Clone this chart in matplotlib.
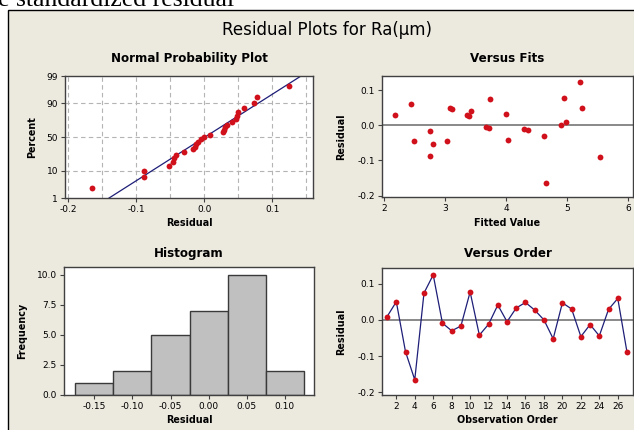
import matplotlib
matplotlib.use("Agg")
import matplotlib.pyplot as plt
from matplotlib.patches import Rectangle
from statistics import NormalDist
import numpy as np

residuals = [0.009, 0.050, -0.088, -0.165, 0.074, 0.124, -0.009, -0.030, -0.017,
             0.077, -0.042, -0.012, 0.041, -0.005, 0.033, 0.048, 0.027, 0.000,
             -0.052, 0.047, 0.030, -0.046, -0.013, -0.044, 0.029, 0.059, -0.089]
# fitted values for the same observations (Versus Fits panel)
fitted = [4.98, 5.25, 2.74, 4.66, 3.73, 5.21, 3.71, 4.62, 2.75,
          4.94, 4.02, 4.29, 3.42, 3.67, 3.99, 3.07, 3.38, 4.90,
          2.79, 3.11, 2.17, 2.48, 4.35, 3.03, 3.35, 2.44, 5.54]
order = list(range(1, len(residuals) + 1))

hist_edges = [-0.175, -0.125, -0.075, -0.025, 0.025, 0.075, 0.125]
prob_ticks = [1, 10, 50, 90, 99]

W, H = 634, 430
BEIGE = '#ECE9DF'
RED = '#D0101A'
NAVY = '#1E1E78'
FRAME = '#404040'

plt.rcParams['font.family'] = 'DejaVu Sans'
plt.rcParams['axes.unicode_minus'] = False

fig = plt.figure(figsize=(W / 100, H / 100), dpi=100)
fig.patch.set_facecolor('white')

# beige Minitab panel with black border (top/left visible)
fig.patches.append(Rectangle((8 / W, -0.01), 1.0, 1 - 10 / H + 0.01,
                             transform=fig.transFigure, facecolor=BEIGE,
                             edgecolor='black', lw=1, zorder=-10))

# clipped heading from the surrounding document (cut at the top in the source too)
fig.text(-2 / W, 1 - 6 / H, 'e standardized residual', family='Liberation Serif',
         fontsize=18.5, va='baseline', ha='left')

fig.text(327 / W, 1 - 30 / H, 'Residual Plots for Ra(\u00b5m)', fontsize=12,
         ha='center', va='center')


def add_ax(l, r, t, b):
    ax = fig.add_axes([l / W, 1 - b / H, (r - l) / W, (b - t) / H])
    ax.set_facecolor('white')
    for s in ax.spines.values():
        s.set_color(FRAME)
        s.set_linewidth(1)
    ax.tick_params(direction='out', length=3, width=0.8, color=FRAME,
                   labelsize=6.5, pad=2)
    return ax


lab = dict(fontsize=6.9, fontweight='bold')
tit = dict(fontsize=8.6, fontweight='bold')

# --- Normal probability plot ---
ax1 = add_ax(65, 313, 76, 198)
nd = NormalDist()
srt = np.sort(residuals)
n = len(srt)
pp = [(i - 0.3) / (n + 0.4) for i in range(1, n + 1)]
zz = [nd.inv_cdf(p) for p in pp]
zlim = nd.inv_cdf(0.99)
mu, sd = np.mean(residuals), np.std(residuals, ddof=1)
ax1.plot([mu - zlim * sd, mu + zlim * sd], [-zlim, zlim], color=NAVY, lw=0.9, zorder=2)
ax1.plot(srt, zz, 'o', color=RED, ms=4.2, mec='none', zorder=3)
ax1.set_xlim(-0.2045, 0.16)
ax1.set_ylim(-zlim, zlim)
ax1.set_yticks([nd.inv_cdf(p / 100) for p in prob_ticks])
ax1.set_yticklabels([str(p) for p in prob_ticks])
ax1.set_xticks([-0.2, -0.1, 0.0, 0.1])
ax1.set_xticklabels(['-0.2', '-0.1', '0.0', '0.1'])
for xg in np.arange(-0.2, 0.16, 0.05):
    ax1.axvline(xg, color='#B4B4B4', lw=0.8, ls=(0, (4, 3)), zorder=1)
for p in prob_ticks[1:-1]:
    ax1.axhline(nd.inv_cdf(p / 100), color='#B4B4B4', lw=0.8, ls=(0, (4, 3)), zorder=1)
ax1.set_title('Normal Probability Plot', pad=10, **tit)
ax1.set_xlabel('Residual', **lab)
ax1.set_ylabel('Percent', **lab)
ax1.xaxis.set_label_coords(0.5, -0.164)
ax1.yaxis.set_label_coords(-0.113, 0.5)

# --- Versus fits ---
ax2 = add_ax(382, 633, 76, 197)
ax2.axhline(0, color='#808080', lw=1.3, zorder=1)
ax2.plot(fitted, residuals, 'o', color=RED, ms=4.2, mec='none', zorder=3)
ax2.set_xlim(1.96, 6.08)
ax2.set_ylim(-0.204, 0.14)
ax2.set_xticks([2, 3, 4, 5, 6])
ax2.set_yticks([-0.2, -0.1, 0.0, 0.1])
ax2.set_yticklabels(['-0.2', '-0.1', '0.0', '0.1'])
ax2.set_title('Versus Fits', pad=10, **tit)
ax2.set_xlabel('Fitted Value', **lab)
ax2.set_ylabel('Residual', **lab)
ax2.xaxis.set_label_coords(0.5, -0.174)
ax2.yaxis.set_label_coords(-0.143, 0.5)

# --- Histogram ---
ax3 = add_ax(64, 314, 267, 395)
ax3.hist(residuals, bins=hist_edges, facecolor='#C0C0C0', edgecolor='#3A3A3A', lw=1)
ax3.set_xlim(-0.19, 0.1386)
ax3.set_ylim(0, 10.64)
ax3.set_xticks([-0.15, -0.10, -0.05, 0.0, 0.05, 0.10])
ax3.set_xticklabels(['-0.15', '-0.10', '-0.05', '0.00', '0.05', '0.10'])
ax3.set_yticks([0, 2.5, 5, 7.5, 10])
ax3.set_yticklabels(['0.0', '2.5', '5.0', '7.5', '10.0'])
ax3.set_title('Histogram', pad=7, **tit)
ax3.set_xlabel('Residual', **lab)
ax3.set_ylabel('Frequency', **lab)
ax3.xaxis.set_label_coords(0.5, -0.156)
ax3.yaxis.set_label_coords(-0.148, 0.5)

# --- Versus order ---
ax4 = add_ax(382, 633, 268, 395)
ax4.axhline(0, color='#808080', lw=1.3, zorder=1)
ax4.plot(order, residuals, '-', color=NAVY, lw=0.9, zorder=2)
ax4.plot(order, residuals, 'o', color=RED, ms=4.2, mec='none', zorder=3)
ax4.set_xlim(0.45, 27.65)
ax4.set_ylim(-0.207, 0.143)
ax4.set_xticks(range(2, 27, 2))
ax4.set_yticks([-0.2, -0.1, 0.0, 0.1])
ax4.set_yticklabels(['-0.2', '-0.1', '0.0', '0.1'])
ax4.set_title('Versus Order', pad=8, **tit)
ax4.set_xlabel('Observation Order', **lab)
ax4.set_ylabel('Residual', **lab)
ax4.xaxis.set_label_coords(0.5, -0.157)
ax4.yaxis.set_label_coords(-0.143, 0.5)

fig.savefig('out.png', dpi=100, facecolor=fig.get_facecolor())
